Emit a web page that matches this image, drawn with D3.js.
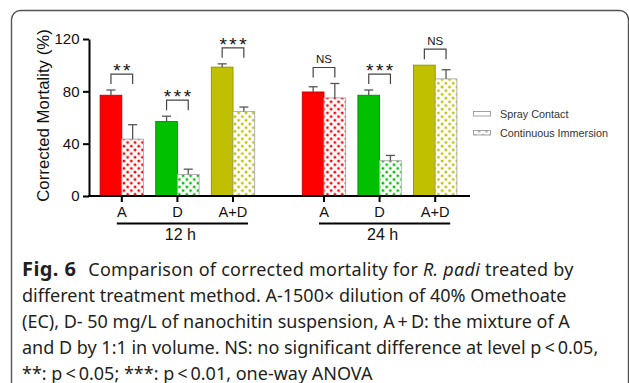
<!DOCTYPE html>
<html>
<head>
<meta charset="utf-8">
<script src="https://cdn.jsdelivr.net/npm/d3@7"></script>
<style>
  html, body { margin: 0; padding: 0; background: #fff; }
  svg { display: block; }
  text { white-space: pre; }
</style>
</head>
<body>
<svg id="chart" width="629" height="383"></svg>
<script>
// ---- data ----
const times = ["12 h", "24 h"];
const categories = ["A", "D", "A+D"];
const seriesNames = ["Spray Contact", "Continuous Immersion"];
const categoryColors = ["#ff0000", "#00c000", "#c0c000"];

const spray12 = [77, 57, 98.5];
const sprayErr12 = [4, 4, 2.5];
const immersion12 = [43.5, 16.5, 64.5];
const immersionErr12 = [11, 4, 3.5];

const spray24 = [79.5, 77, 100];
const sprayErr24 = [4, 4, 0];
const immersion24 = [75, 27, 89.5];
const immersionErr24 = [11, 4, 7];

const significance12 = ["**", "***", "***"];
const significance24 = ["NS", "***", "NS"];

const yTicks = [0, 40, 80, 120];
const yTitle = "Corrected Mortality (%)";

// table built from the arrays above
const spray = { "12 h": [spray12, sprayErr12], "24 h": [spray24, sprayErr24] };
const immersion = { "12 h": [immersion12, immersionErr12], "24 h": [immersion24, immersionErr24] };
const significance = { "12 h": significance12, "24 h": significance24 };

const groups = [];
times.forEach(t => {
  categories.forEach((c, ci) => {
    groups.push({
      time: t,
      cat: c,
      color: categoryColors[ci],
      sig: significance[t][ci],
      bars: [
        { series: seriesNames[0], value: spray[t][0][ci], err: spray[t][1][ci] },
        { series: seriesNames[1], value: immersion[t][0][ci], err: immersion[t][1][ci] }
      ]
    });
  });
});

// ---- drawing ----
const svg = d3.select("#chart");
const axisFont = "'Liberation Sans', Arial, Helvetica, sans-serif";
const captionFont = "'Noto Sans', 'Open Sans', sans-serif";

svg.append("rect").attr("width", 629).attr("height", 383).attr("fill", "#fff");

// rounded frame around the figure
svg.append("rect")
  .attr("x", 11.5).attr("y", 10.5)
  .attr("width", 617).attr("height", 420)
  .attr("rx", 9).attr("ry", 9)
  .attr("fill", "none")
  .attr("stroke", "#555")
  .attr("stroke-width", 1.4);

const y = d3.scaleLinear().domain([0, 120]).range([196, 39]);
const xTime = d3.scaleBand().domain(times).range([94, 463]).paddingInner(0.175);
const xCat = d3.scaleBand().domain(categories).range([0, xTime.bandwidth()])
  .paddingInner(0.22).paddingOuter(0.11);
const xSeries = d3.scaleBand().domain(seriesNames).range([0, xCat.bandwidth()]);

const catCenter = d => xTime(d.time) + xCat(d.cat) + xCat.bandwidth() / 2;

// dotted fill patterns for the immersion bars
const defs = svg.append("defs");
function dotPattern(id, color) {
  const p = defs.append("pattern")
    .attr("id", id)
    .attr("patternUnits", "userSpaceOnUse")
    .attr("width", 7.4).attr("height", 7.4);
  p.append("rect").attr("width", 7.4).attr("height", 7.4).attr("fill", "#fff");
  [[1.85, 1.85], [5.55, 5.55]].forEach(([cx, cy]) => {
    p.append("circle").attr("cx", cx).attr("cy", cy).attr("r", 1.45).attr("fill", color);
  });
}
categoryColors.forEach((c, i) => dotPattern("dots" + i, c));
dotPattern("dotsLegend", "#b0b0b0");

const patternOf = color => "url(#dots" + categoryColors.indexOf(color) + ")";

// bars
const barG = svg.append("g");
groups.forEach(g => {
  g.bars.forEach((b, bi) => {
    const x0 = xTime(g.time) + xCat(g.cat) + xSeries(b.series);
    barG.append("rect")
      .attr("x", x0)
      .attr("y", y(b.value))
      .attr("width", xSeries.bandwidth())
      .attr("height", y(0) - y(b.value))
      .attr("fill", bi === 0 ? g.color : patternOf(g.color))
      .attr("stroke", bi === 0 ? d3.color(g.color).darker(0.8) : "#a8a8a8")
      .attr("stroke-width", 0.9);
  });
});

// error bars (upper side only)
const errG = svg.append("g").attr("stroke", "#555").attr("stroke-width", 1.3).attr("fill", "none");
groups.forEach(g => {
  g.bars.forEach(b => {
    if (!b.err) return;
    const cx = xTime(g.time) + xCat(g.cat) + xSeries(b.series) + xSeries.bandwidth() / 2;
    errG.append("line").attr("x1", cx).attr("x2", cx).attr("y1", y(b.value)).attr("y2", y(b.value + b.err));
    errG.append("line").attr("x1", cx - 4.5).attr("x2", cx + 4.5).attr("y1", y(b.value + b.err)).attr("y2", y(b.value + b.err));
  });
});

// significance brackets
const sigG = svg.append("g");
groups.forEach(g => {
  const top = d3.max(g.bars, b => b.value + b.err);
  const yb = y(top) - 6;
  const yt = yb - 10;
  const cx = catCenter(g);
  const half = xSeries.bandwidth() / 2;
  sigG.append("path")
    .attr("d", `M${cx - half},${yb}V${yt}H${cx + half}V${yb}`)
    .attr("fill", "none")
    .attr("stroke", "#444")
    .attr("stroke-width", 1.2);
  if (g.sig === "NS") {
    sigG.append("text")
      .attr("x", cx).attr("y", yt - 4.4)
      .attr("text-anchor", "middle")
      .attr("font-family", axisFont)
      .attr("font-size", 11.5)
      .attr("fill", "#111")
      .text(g.sig);
  } else {
    sigG.append("text")
      .attr("x", cx + 1.3).attr("y", yt + 3)
      .attr("text-anchor", "middle")
      .attr("font-family", axisFont)
      .attr("font-size", 19)
      .attr("letter-spacing", 2.5)
      .attr("fill", "#111")
      .text(g.sig);
  }
});

// y axis
const yAxis = svg.append("g")
  .attr("transform", "translate(89,0)")
  .call(d3.axisLeft(y).tickValues(yTicks).tickSize(6).tickSizeOuter(0).tickPadding(3.5));
yAxis.select(".domain").attr("stroke", "#000").attr("stroke-width", 2);
yAxis.selectAll(".tick line").attr("stroke", "#000").attr("stroke-width", 2);
yAxis.selectAll(".tick text")
  .attr("font-family", axisFont).attr("font-size", 15).attr("fill", "#111");

svg.append("text")
  .attr("transform", "translate(49,115.5) rotate(-90)")
  .attr("text-anchor", "middle")
  .attr("font-family", axisFont)
  .attr("font-size", 16.8)
  .attr("fill", "#111")
  .text(yTitle);

// x axes (one per time point) sharing one baseline
times.forEach(t => {
  const ax = svg.append("g")
    .attr("transform", `translate(${xTime(t)},196)`)
    .call(d3.axisBottom(xCat).tickSize(6).tickSizeOuter(0).tickPadding(4.5));
  ax.select(".domain").remove();
  ax.selectAll(".tick line").attr("stroke", "#000").attr("stroke-width", 2);
  ax.selectAll(".tick text")
    .attr("font-family", axisFont).attr("font-size", 14.6).attr("fill", "#111");

  const first = xTime(t) + xCat(categories[0]) + xCat.bandwidth() / 2;
  const last = xTime(t) + xCat(categories[categories.length - 1]) + xCat.bandwidth() / 2;
  svg.append("line")
    .attr("x1", first - 5).attr("x2", last + 15)
    .attr("y1", 223.5).attr("y2", 223.5)
    .attr("stroke", "#000").attr("stroke-width", 2);
  svg.append("text")
    .attr("x", (first - 5 + last + 15) / 2 - 2).attr("y", 240)
    .attr("text-anchor", "middle")
    .attr("font-family", axisFont)
    .attr("font-size", 16)
    .attr("fill", "#111")
    .text(t);
});

svg.append("line")
  .attr("x1", 88).attr("x2", 470)
  .attr("y1", 196).attr("y2", 196)
  .attr("stroke", "#000").attr("stroke-width", 2);

// legend
const legend = svg.append("g");
seriesNames.forEach((s, i) => {
  const ly = 111.5 + i * 19;
  legend.append("rect")
    .attr("x", 473.5).attr("y", ly)
    .attr("width", 17).attr("height", 4.5)
    .attr("fill", i === 0 ? "#fff" : "url(#dotsLegend)")
    .attr("stroke", "#999").attr("stroke-width", 0.9);
  legend.append("text")
    .attr("x", 500).attr("y", ly + 6)
    .attr("font-family", axisFont)
    .attr("font-size", 10.8)
    .attr("fill", "#333")
    .text(s);
});

// caption
const captionLines = [
  [["Fig. 6", "bold"], ["Comparison of corrected mortality for ", "gap"], ["R. padi", "italic"], [" treated by", ""]],
  [["different treatment method. A-1500\u00d7 dilution of 40% Omethoate", ""]],
  [["(EC), D- 50 mg/L of nanochitin suspension, A\u2009+\u2009D: the mixture of A", ""]],
  [["and D by 1:1 in volume. NS: no significant difference at level p\u2009<\u20090.05,", ""]],
  [["**: p\u2009<\u20090.05; ***: p\u2009<\u20090.01, one-way ANOVA", ""]]
];
const captionBaselines = [275.5, 301.5, 327.7, 354, 380];
captionLines.forEach((parts, i) => {
  const t = svg.append("text")
    .attr("x", 22).attr("y", captionBaselines[i])
    .attr("font-family", captionFont)
    .attr("font-size", 18)
    .attr("fill", "#231f20");
  parts.forEach(([str, style]) => {
    const ts = t.append("tspan").text(str);
    if (style === "bold") ts.attr("font-weight", "bold").attr("font-size", 20).attr("letter-spacing", 0.4);
    if (style === "gap") ts.attr("dx", 12).attr("letter-spacing", 0.25);
    if (style === "italic") ts.attr("font-style", "italic").attr("letter-spacing", 0.25);
    if (style === "" && i === 0) ts.attr("letter-spacing", 0.25);
  });
});
</script>
</body>
</html>
